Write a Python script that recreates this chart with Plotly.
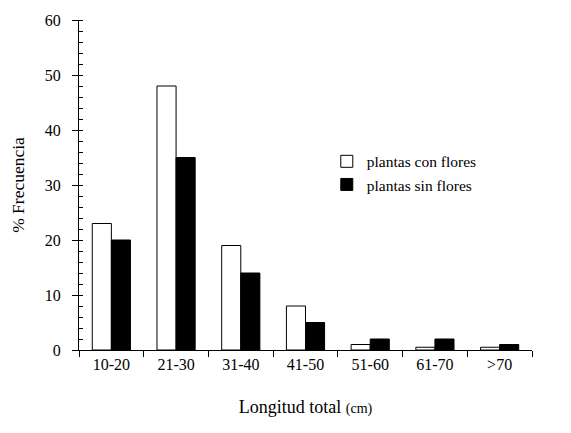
import plotly.graph_objects as go

categories = ["10-20", "21-30", "31-40", "41-50", "51-60", "61-70", ">70"]
con_flores = [23, 48, 19, 8, 1, 0.5, 0.5]
sin_flores = [20, 35, 14, 5, 2, 2, 1]

FONT = "Liberation Serif, Times New Roman, serif"

fig = go.Figure()
fig.add_trace(go.Bar(x=categories, y=con_flores, name="plantas con flores",
                     marker=dict(color="white", line=dict(color="black", width=1))))
fig.add_trace(go.Bar(x=categories, y=sin_flores, name="plantas sin flores",
                     marker=dict(color="black", line=dict(color="black", width=1))))

fig.update_layout(
    width=571, height=433,
    margin=dict(l=79, r=39, t=17, b=83),
    paper_bgcolor="white", plot_bgcolor="white",
    font=dict(family=FONT, size=16, color="black"),
    barmode="group", bargap=0.41, bargroupgap=0,
    legend=dict(x=0.547, y=0.622, xanchor="left", yanchor="top",
                bgcolor="rgba(0,0,0,0)", font=dict(family=FONT, size=15.5),
                itemwidth=30, tracegroupgap=4),
    showlegend=True,
    yaxis2=dict(overlaying="y", range=[0, 60], dtick=10, showline=False,
                ticks="inside", ticklen=4, tickcolor="black",
                showticklabels=False, showgrid=False, zeroline=False,
                side="left", anchor="x"),
)
fig.update_xaxes(
    type="category", showline=True, linecolor="black", linewidth=1,
    ticks="outside", ticklen=6, tickcolor="black", tickson="boundaries",
    showgrid=False, zeroline=False,
    tickfont=dict(family=FONT, size=16),
    title=dict(text="Longitud total <span style='font-size:14px'>(cm)</span>",
               font=dict(family=FONT, size=18), standoff=28),
)
fig.layout.yaxis.update(
    range=[0, 60], dtick=10, showline=True, linecolor="black", linewidth=1,
    ticks="outside", ticklen=6, tickcolor="black", ticklabelstandoff=8,
    minor=dict(dtick=2, ticks="inside", ticklen=4, tickcolor="black", showgrid=False),
    showgrid=False, zeroline=False,
    tickfont=dict(family=FONT, size=16),
    title=dict(text="% Frecuencia", font=dict(family=FONT, size=17.5), standoff=15),
)

fig.write_html("out.html")
